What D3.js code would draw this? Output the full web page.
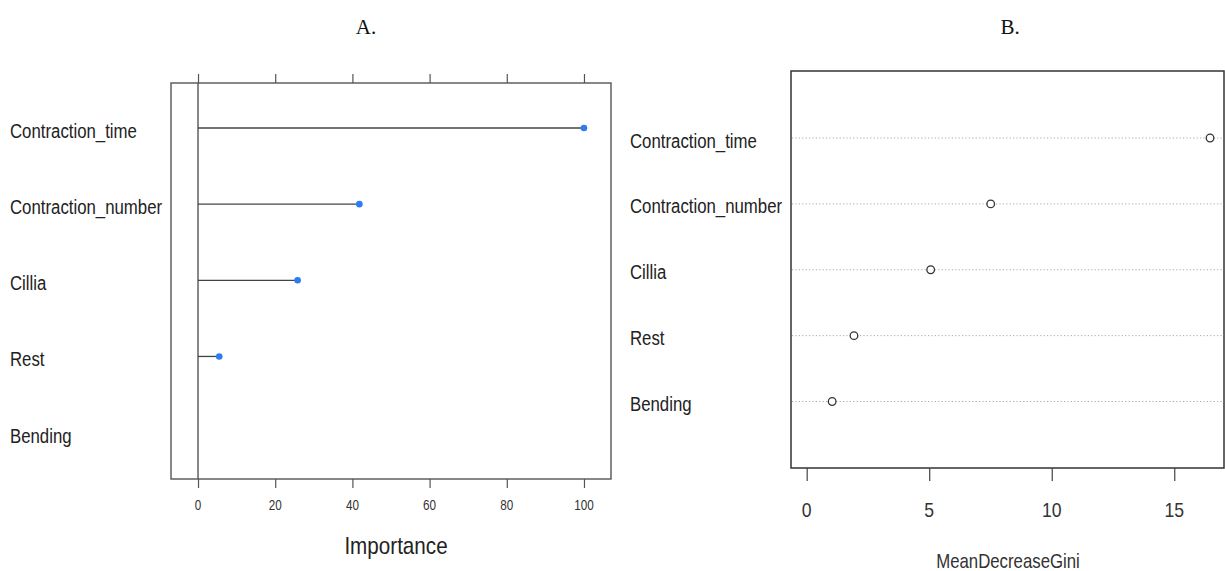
<!DOCTYPE html>
<html>
<head>
<meta charset="utf-8">
<script src="https://cdn.jsdelivr.net/npm/d3@7"></script>
<style>
  html, body { margin: 0; padding: 0; background: #fff; }
  svg { display: block; }
</style>
</head>
<body>
<svg id="chart" width="1225" height="571"></svg>
<script>
// ---- data ----
const categories = ["Contraction_time", "Contraction_number", "Cillia", "Rest", "Bending"];
const importanceA = [100, 41.8, 25.8, 5.5, 0];
const giniB = [16.46, 7.51, 5.06, 1.93, 1.04];
const ticksA = [0, 20, 40, 60, 80, 100];
const ticksB = [0, 5, 10, 15];
const titles = ["A.", "B."];
const xTitleA = "Importance";
const xTitleB = "MeanDecreaseGini";

const svg = d3.select("#chart");
const SANS = "'Liberation Sans', Arial, sans-serif";
const SERIF = "'Liberation Serif', 'Times New Roman', serif";

// condensed text helper (R's Helvetica rendering looks narrow)
function txt(g, x, y, s, size, sx, anchor, color, family) {
  return g.append("text")
    .attr("transform", `translate(${x},${y}) scale(${sx},1)`)
    .attr("text-anchor", anchor || "start")
    .attr("font-family", family || SANS)
    .attr("font-size", size)
    .attr("fill", color || "#222")
    .text(s);
}

// ================= Panel A =================
const A = { left: 171, right: 611, top: 83, bottom: 479 };
const xA = d3.scaleLinear().domain([-7, 107]).range([A.left, A.right]);
const yA = d3.scalePoint().domain(categories).range([128, 432.6]);
const gA = svg.append("g");

gA.append("rect")
  .attr("x", A.left).attr("y", A.top)
  .attr("width", A.right - A.left).attr("height", A.bottom - A.top)
  .attr("fill", "none").attr("stroke", "#555").attr("stroke-width", 1.4);

gA.append("g").attr("transform", `translate(0,${A.top})`)
  .call(d3.axisTop(xA).tickValues(ticksA).tickSize(9).tickFormat(""))
  .call(g => g.select(".domain").remove())
  .call(g => g.selectAll("line").attr("stroke", "#555").attr("stroke-width", 1.2));

gA.append("g").attr("transform", `translate(0,${A.bottom})`)
  .call(d3.axisBottom(xA).tickValues(ticksA).tickSize(9).tickFormat(""))
  .call(g => g.select(".domain").remove())
  .call(g => g.selectAll("line").attr("stroke", "#555").attr("stroke-width", 1.2));
ticksA.forEach(v => txt(gA, xA(v), 510, String(v), 15, 0.78, "middle", "#333"));

gA.append("line")
  .attr("x1", xA(0)).attr("x2", xA(0))
  .attr("y1", A.top).attr("y2", A.bottom)
  .attr("stroke", "#555").attr("stroke-width", 1.4);

const dataA = categories.map((c, i) => ({ c, v: importanceA[i] })).filter(d => d.v > 0);
gA.selectAll(".seg").data(dataA).join("line")
  .attr("x1", xA(0)).attr("x2", d => xA(d.v))
  .attr("y1", d => yA(d.c)).attr("y2", d => yA(d.c))
  .attr("stroke", "#444").attr("stroke-width", 1.3);
gA.selectAll(".pt").data(dataA).join("circle")
  .attr("cx", d => xA(d.v)).attr("cy", d => yA(d.c)).attr("r", 3.3)
  .attr("fill", "#2e7cf0");

categories.forEach(c => txt(gA, 10, yA(c) + 10, c, 21, 0.8, "start", "#222"));
txt(gA, (A.left + A.right) / 2 + 5, 554, xTitleA, 24, 0.86, "middle", "#222");
txt(svg, 366, 34, titles[0], 21, 1, "middle", "#111", SERIF);

// ================= Panel B =================
const B = { left: 791, right: 1224, top: 71, bottom: 468 };
const xB = d3.scaleLinear().domain([-0.64, 17.03]).range([B.left, B.right]);
const yB = d3.scalePoint().domain(categories).range([138, 401.5]);
const gB = svg.append("g");

gB.append("rect")
  .attr("x", B.left).attr("y", B.top)
  .attr("width", B.right - B.left).attr("height", B.bottom - B.top)
  .attr("fill", "none").attr("stroke", "#333").attr("stroke-width", 1.5);

gB.append("g").attr("transform", `translate(0,${B.bottom})`)
  .call(d3.axisBottom(xB).tickValues(ticksB).tickSize(13).tickFormat(""))
  .call(g => g.select(".domain").remove())
  .call(g => g.selectAll("line").attr("stroke", "#444").attr("stroke-width", 1.2));
ticksB.forEach(v => txt(gB, xB(v), 517, String(v), 20, 0.88, "middle", "#333"));

gB.selectAll(".guide").data(categories).join("line")
  .attr("x1", B.left + 1).attr("x2", B.right)
  .attr("y1", d => yB(d)).attr("y2", d => yB(d))
  .attr("stroke", "#aaa").attr("stroke-width", 1).attr("stroke-dasharray", "1.2,2.2");

const dataB = categories.map((c, i) => ({ c, v: giniB[i] }));
gB.selectAll(".pt").data(dataB).join("circle")
  .attr("cx", d => xB(d.v)).attr("cy", d => yB(d.c)).attr("r", 3.8)
  .attr("fill", "#fff").attr("stroke", "#333").attr("stroke-width", 1.3);

categories.forEach(c => txt(gB, 630, yB(c) + 9.5, c, 21, 0.8, "start", "#222"));
txt(gB, 1008, 568, xTitleB, 20, 0.84, "middle", "#333");
txt(svg, 1010, 34, titles[1], 21, 1, "middle", "#111", SERIF);
</script>
</body>
</html>
